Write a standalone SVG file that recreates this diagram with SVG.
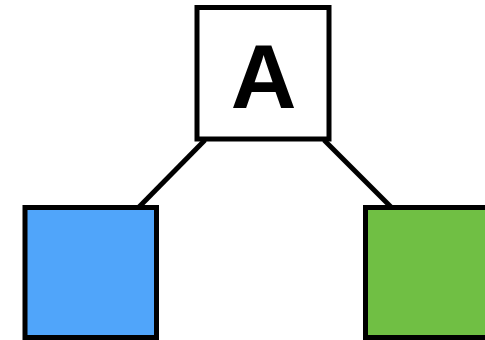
<svg xmlns="http://www.w3.org/2000/svg" width="485" height="340" viewBox="0 0 485 340">
<style>
.node{stroke:#000;stroke-width:5}
.edge{stroke:#000;stroke-width:5;fill:none}
.lbl{font-family:"Liberation Sans",Arial,sans-serif;font-weight:bold;font-size:91px;text-anchor:middle;fill:#000}
</style>
<rect width="485" height="340" fill="#fff"/>
<g id="connectors">
<line class="edge" x1="205" y1="140" x2="139" y2="207"/>
<line class="edge" x1="324" y1="140" x2="391" y2="207"/>
</g>
<g id="nodeA">
<rect class="node" x="197" y="7.5" width="132" height="131.5" fill="#fff"/>
<text class="lbl" x="263.5" y="108">A</text>
</g>
<g id="nodeB">
<rect class="node" x="25" y="207.5" width="131.5" height="130" fill="#50A5FA"/>
</g>
<g id="nodeC">
<rect class="node" x="365.5" y="207.5" width="132" height="130" fill="#70BF44"/>
</g>
</svg>
